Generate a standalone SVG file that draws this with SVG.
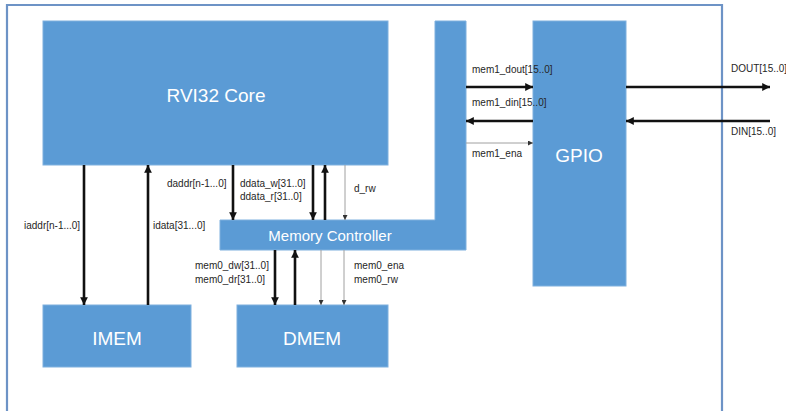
<svg xmlns="http://www.w3.org/2000/svg" width="786" height="411" viewBox="0 0 786 411">
<defs>
<style>
.blk{fill:#5b9bd5;stroke:#7fb0de;stroke-width:1}
.big{font-family:"Liberation Sans",Arial,sans-serif;font-size:19px;fill:#ffffff;text-anchor:middle}
.mc{font-family:"Liberation Sans",Arial,sans-serif;font-size:15px;fill:#ffffff;text-anchor:middle}
.lbl{font-family:"Liberation Sans",Arial,sans-serif;font-size:10px;fill:#262626}
.thick{stroke:#111111;stroke-width:2.6;fill:none}
.thin{stroke:#a0a0a0;stroke-width:1;fill:none}
</style>
<marker id="ah" viewBox="0 0 10 10" refX="10" refY="5" markerWidth="3.4" markerHeight="3" orient="auto" markerUnits="strokeWidth">
<path d="M0,0 L10,5 L0,10 Z" fill="#111111"/>
</marker>
<marker id="ahs" viewBox="0 0 10 10" refX="10" refY="5" markerWidth="6" markerHeight="5" orient="auto" markerUnits="strokeWidth">
<path d="M0,0 L10,5 L0,10 Z" fill="#333333"/>
</marker>
</defs>
<rect width="786" height="411" fill="#ffffff"/>
<g id="frame">
<path d="M7,420 V5 H722 V420" fill="none" stroke="#6d93c6" stroke-width="2.2"/>
</g>
<g id="core">
<rect class="blk" x="43" y="21" width="345" height="144"/>
<text class="big" x="216" y="102">RVI32 Core</text>
</g>
<g id="memctrl">
<path class="blk" d="M435,21 H466 V250 H220 V220 H435 Z"/>
<text class="mc" x="330" y="241">Memory Controller</text>
</g>
<g id="gpio">
<rect class="blk" x="533" y="21" width="93" height="265"/>
<text class="big" x="579" y="162">GPIO</text>
</g>
<g id="imem">
<rect class="blk" x="43" y="305" width="148" height="62"/>
<text class="big" x="117" y="345">IMEM</text>
</g>
<g id="dmem">
<rect class="blk" x="237" y="305" width="151" height="62"/>
<text class="big" x="312" y="345">DMEM</text>
</g>
<g id="connectors">
<line class="thick" x1="84" y1="165" x2="84" y2="305" marker-end="url(#ah)"/>
<line class="thick" x1="148" y1="305" x2="148" y2="165" marker-end="url(#ah)"/>
<line class="thick" x1="233" y1="165" x2="233" y2="220" marker-end="url(#ah)"/>
<line class="thick" x1="313" y1="165" x2="313" y2="220" marker-end="url(#ah)"/>
<line class="thick" x1="325" y1="220" x2="325" y2="165" marker-end="url(#ah)"/>
<line class="thin" x1="345" y1="165" x2="345" y2="220" marker-end="url(#ahs)"/>
<line class="thick" x1="275" y1="250" x2="275" y2="305" marker-end="url(#ah)"/>
<line class="thick" x1="295" y1="305" x2="295" y2="250" marker-end="url(#ah)"/>
<line class="thin" x1="321" y1="250" x2="321" y2="305" marker-end="url(#ahs)"/>
<line class="thin" x1="344" y1="250" x2="344" y2="305" marker-end="url(#ahs)"/>
<line class="thick" x1="466" y1="87" x2="533" y2="87" marker-end="url(#ah)"/>
<line class="thick" x1="533" y1="121" x2="466" y2="121" marker-end="url(#ah)"/>
<line class="thin" x1="466" y1="143" x2="533" y2="143" marker-end="url(#ahs)"/>
<line class="thick" x1="626" y1="87" x2="770" y2="87" marker-end="url(#ah)"/>
<line class="thick" x1="770" y1="121" x2="626" y2="121" marker-end="url(#ah)"/>
</g>
<g id="labels">
<text class="lbl" x="24" y="229">iaddr[n-1...0]</text>
<text class="lbl" x="153" y="229">idata[31...0]</text>
<text class="lbl" x="167" y="187">daddr[n-1...0]</text>
<text class="lbl" x="240" y="187">ddata_w[31..0]</text>
<text class="lbl" x="240" y="200">ddata_r[31..0]</text>
<text class="lbl" x="354" y="192">d_rw</text>
<text class="lbl" x="195" y="269">mem0_dw[31..0]</text>
<text class="lbl" x="195" y="283">mem0_dr[31..0]</text>
<text class="lbl" x="354" y="269">mem0_ena</text>
<text class="lbl" x="354" y="283">mem0_rw</text>
<text class="lbl" x="472" y="73">mem1_dout[15..0]</text>
<text class="lbl" x="472" y="106">mem1_din[15..0]</text>
<text class="lbl" x="472" y="157">mem1_ena</text>
<text class="lbl" x="731" y="72">DOUT[15..0]</text>
<text class="lbl" x="731" y="135">DIN[15..0]</text>
</g>
</svg>
